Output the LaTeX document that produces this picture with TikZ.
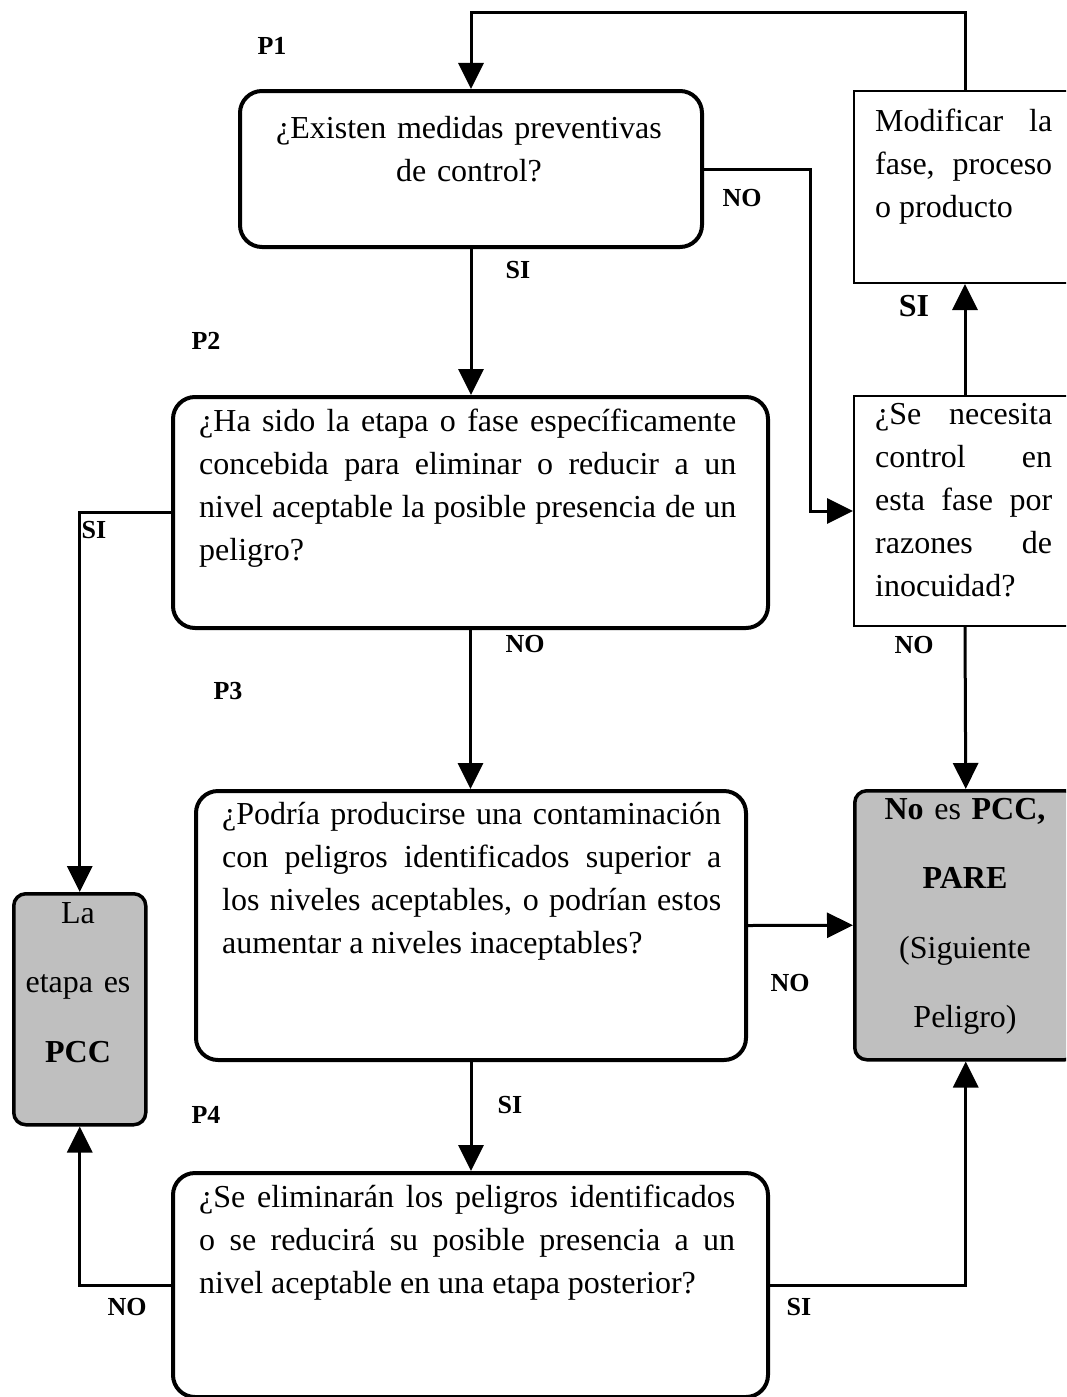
\documentclass[tikz,border=0pt]{standalone}
\usepackage{fontspec}
\setmainfont{Liberation Serif}
\usetikzlibrary{positioning,arrows.meta}
\setlength{\parindent}{0pt}
\hyphenpenalty=10000
\exhyphenpenalty=10000

\begin{document}
\begin{tikzpicture}[x=1pt, y=-1pt,
    box/.style={draw, line width=4pt, rounded corners=22pt, inner sep=0pt, anchor=north west},
    thinbox/.style={draw, line width=2pt, inner sep=0pt, anchor=north west},
    endbox/.style={draw, line width=3.5pt, rounded corners=12pt, fill=black!25, inner sep=0pt, anchor=north west},
    txt/.style={inner sep=0pt, font=\fontsize{32}{43}\selectfont, align=justify, anchor=north west},
    endtxt/.style={inner sep=0pt, font=\fontsize{32}{69.5}\selectfont, align=center, anchor=north},
    lbl/.style={inner sep=0pt, font=\fontsize{26}{30}\selectfont\bfseries},
    arr/.style={line width=3pt, -{Triangle[length=26pt,width=25pt]}}]

    % Page
    \fill[white, use as bounding box] (0,0) rectangle (1066,1397);
    \clip (0,0) rectangle (1066,1397);

    % Question boxes
    \node[box, minimum width=462, minimum height=156] (p1) at (238,89) {};
    \node[box, minimum width=595, minimum height=231] (p2) at (171,395) {};
    \node[box, minimum width=550, minimum height=269] (p3) at (194,789) {};
    \node[box, minimum width=595, minimum height=224] (p4) at (171,1171) {};

    % Right column
    \node[thinbox, minimum width=222, minimum height=192] (mod) at (853,90) {};
    \node[thinbox, minimum width=222, minimum height=230] (nec) at (853,395) {};
    \node[endbox, minimum width=222, minimum height=269] (nopcc) at (853,789) {};

    % Left end box
    \node[endbox, minimum width=132, minimum height=231] (etapa) at (12,892) {};

    % Texts
    \node[txt, text width=420, align=center, anchor=north] (p1t) at (469,116)
        {¿Existen medidas preventivas\\de control?};
    \node[txt, text width=537] (p2t) at (199,409)
        {¿Ha sido la etapa o fase específicamente\linebreak concebida para eliminar o reducir a un\linebreak nivel aceptable la posible presencia de un\linebreak peligro?};
    \node[txt, text width=499] (p3t) at (222,802)
        {¿Podría producirse una contaminación\linebreak con peligros identificados superior a\linebreak los niveles aceptables, o podrían estos\linebreak aumentar a niveles inaceptables?};
    \node[txt, text width=536] (p4t) at (199,1185)
        {¿Se eliminarán los peligros identificados\linebreak o se reducirá su posible presencia a un\linebreak nivel aceptable en una etapa posterior?};
    \node[txt, text width=177] (modt) at (875,109)
        {Modificar la\linebreak fase, proceso\linebreak o producto};
    \node[txt, text width=177] (nect) at (875,403)
        {¿Se necesita\linebreak control en\linebreak esta fase por\linebreak razones de\linebreak inocuidad?};
    \node[endtxt, text width=200] (nopcct) at (965,798)
        {\textbf{No} es \textbf{PCC,}\\\textbf{PARE}\\(Siguiente\\Peligro)};
    \node[endtxt, text width=130] (etapat) at (78,902)
        {La\\etapa es\\\textbf{PCC}};

    % Step labels
    \node[lbl] (lp1) at (272,46) {P1};
    \node[lbl] (lp2) at (206,341) {P2};
    \node[lbl] (lp3) at (228,691) {P3};
    \node[lbl] (lp4) at (206,1115) {P4};

    % Connectors
    \draw[arr] (mod.north) -- ++(0,-77) -| (p1.north);
    \draw[arr] (p1.south) -- (p1.south |- p2.north);
    \draw[arr] (p1.east) -- ++(106,0) |- (nec.west);
    \draw[arr] (nec.north) -- (mod.south);
    \draw[arr] (p2.west) -| (etapa.north);
    \draw[arr] (p2.south) -- (p2.south |- p3.north);
    \draw[arr] (nec.south) -- (nopcc.north);
    \draw[arr] (p3.east) -- (nopcc.west);
    \draw[arr] (p3.south) -- (p3.south |- p4.north);
    \draw[arr] (p4.west) -| (etapa.south);
    \draw[arr] (p4.east) -| (nopcc.south);

    % Answer labels
    \node[lbl] (si1) at (518,270) {SI};
    \node[lbl] (no1) at (742,198) {NO};
    \node[lbl, font=\fontsize{32}{36}\selectfont\bfseries] (si2) at (914,306) {SI};
    \node[lbl] (si3) at (94,530) {SI};
    \node[lbl] (no2) at (525,644) {NO};
    \node[lbl] (no3) at (914,645) {NO};
    \node[lbl] (no4) at (790,983) {NO};
    \node[lbl] (si4) at (510,1105) {SI};
    \node[lbl] (no5) at (127,1307) {NO};
    \node[lbl] (si5) at (799,1307) {SI};
\end{tikzpicture}
\end{document}
